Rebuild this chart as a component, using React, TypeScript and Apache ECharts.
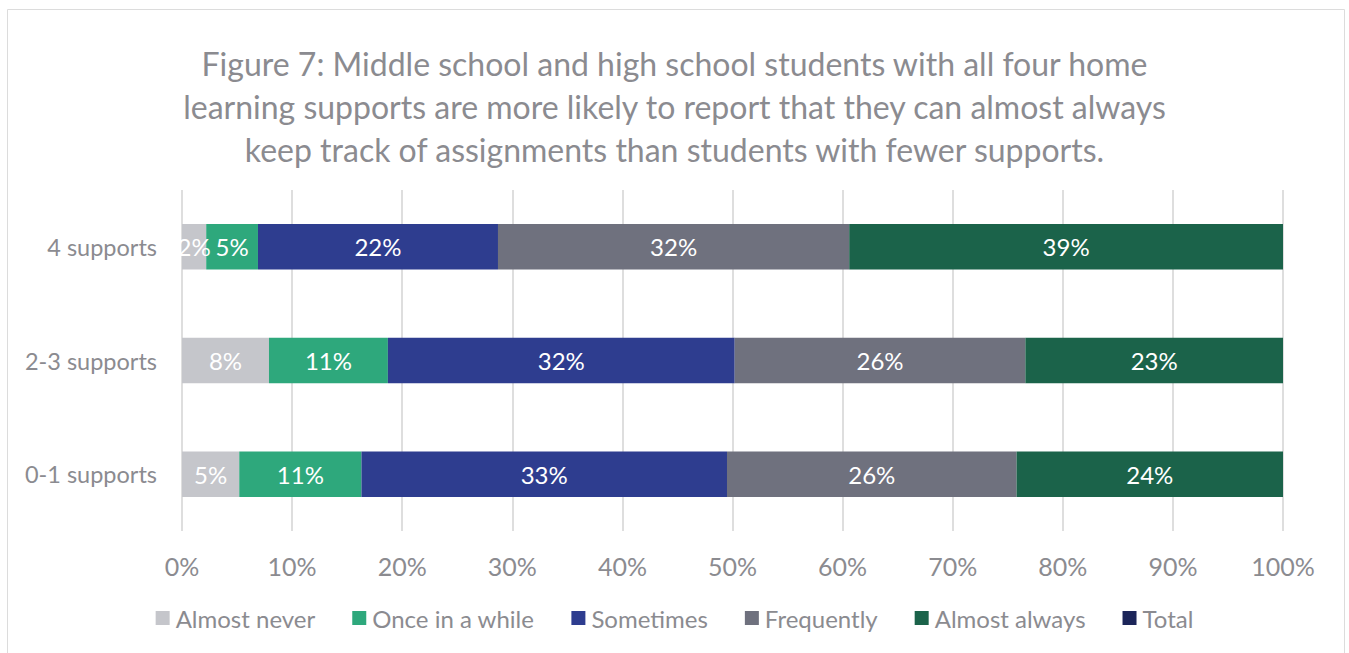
import React, { useEffect, useRef } from "react";
import * as echarts from "echarts";

const categories = ["0-1 supports", "2-3 supports", "4 supports"];
const seriesNames = ["Almost never", "Once in a while", "Sometimes", "Frequently", "Almost always", "Total"];
const almostNever = [5.2, 7.9, 2.2];
const onceInAWhile = [11.1, 10.8, 4.7];
const sometimes = [33.2, 31.5, 21.8];
const frequently = [26.3, 26.4, 31.9];
const almostAlways = [24.2, 23.4, 39.4];
const total: number[] = [];
const colors = ["#c5c6cb", "#2ea87c", "#2e3d8f", "#6f717e", "#1b634a", "#1c2559"];

const FONT = "Lato, 'Open Sans', sans-serif";
const GRAY = "#8b8b90";

export default function App() {
  const ref = useRef<HTMLDivElement>(null);
  useEffect(() => {
    const chart = echarts.init(ref.current!, null, { renderer: "svg" });
    const data = [almostNever, onceInAWhile, sometimes, frequently, almostAlways, total];
    chart.setOption({
      animation: false,
      backgroundColor: "#ffffff",
      color: colors,
      title: {
        text: "Figure 7: Middle school and high school students with all four home\nlearning supports are more likely to report that they can almost always\nkeep track of assignments than students with fewer supports.",
        left: "center",
        top: 37,
        textStyle: { fontFamily: FONT, fontSize: 32, fontWeight: "normal", color: GRAY, lineHeight: 43 },
      },
      graphic: [
        { type: "rect", shape: { x: 7.5, y: 9.5, width: 1337, height: 700 }, style: { fill: "none", stroke: "#dcdcdc", lineWidth: 1 }, silent: true },
      ],
      legend: {
        bottom: 18,
        left: "center",
        itemWidth: 14,
        itemHeight: 14,
        itemGap: 37,
        icon: "rect",
        textStyle: { fontFamily: FONT, fontSize: 24, color: GRAY, padding: [0, 0, 0, 1] },
        data: seriesNames,
      },
      grid: { left: 182, right: 66, top: 190, bottom: 122, containLabel: false },
      xAxis: {
        type: "value",
        min: 0,
        max: 100,
        interval: 10,
        axisLabel: { formatter: "{value}%", fontFamily: FONT, fontSize: 25, color: GRAY, margin: 22 },
        splitLine: { show: true, lineStyle: { color: "#dedede", width: 2 } },
        axisLine: { show: false },
        axisTick: { show: false },
      },
      yAxis: {
        type: "category",
        data: categories,
        axisLabel: { fontFamily: FONT, fontSize: 23.5, color: GRAY, margin: 25 },
        axisLine: { show: false },
        axisTick: { show: false },
      },
      series: seriesNames.map((name, i) => ({
        name,
        type: "bar",
        stack: "total",
        barCategoryGap: "60%",
        data: data[i],
        label: {
          show: i < 5,
          position: "inside",
          color: "#ffffff",
          fontFamily: FONT,
          fontSize: 24,
          formatter: (p: any) => Math.round(p.value) + "%",
        },
      })),
    });
    return () => chart.dispose();
  }, []);
  return <div ref={ref} style={{ position: "absolute", left: 0, top: 0, width: 1349, height: 653 }} />;
}
